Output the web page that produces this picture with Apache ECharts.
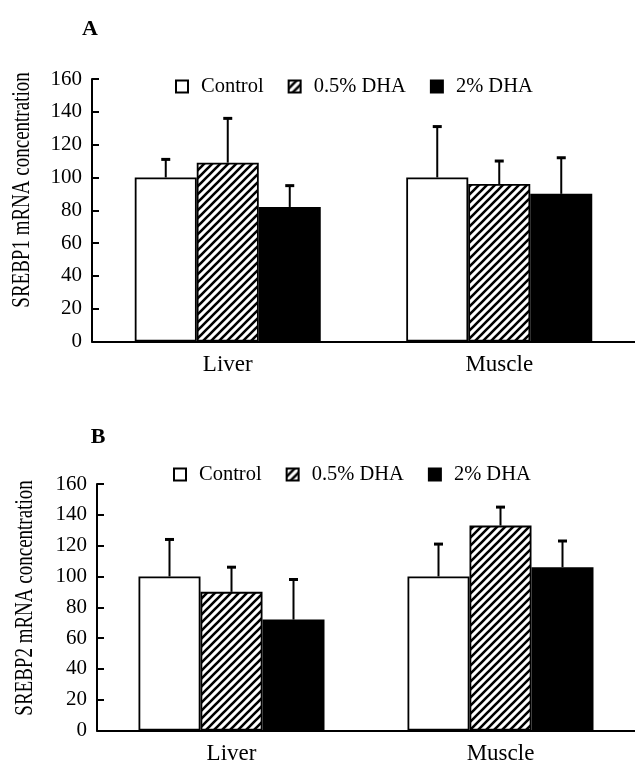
<!DOCTYPE html>
<html><head><meta charset="utf-8">
<script src="https://cdn.jsdelivr.net/npm/echarts@6/dist/echarts.min.js"></script>
<style>html,body{margin:0;padding:0;background:#fff}#c{width:635px;height:771px}</style>
</head><body><div id="c"></div>
<script>
// ---- data ----
const categories = ['Liver', 'Muscle'];
const seriesNames = ['Control', '0.5% DHA', '2% DHA'];
// Panel A: SREBP1
const srebp1Control = [100, 100];
const srebp1Dha05 = [109, 96];
const srebp1Dha2 = [82, 90];
const srebp1ControlSd = [11, 31];
const srebp1Dha05Sd = [27, 14];
const srebp1Dha2Sd = [13, 22];
// Panel B: SREBP2
const srebp2Control = [100, 100];
const srebp2Dha05 = [90, 133];
const srebp2Dha2 = [72, 106];
const srebp2ControlSd = [24, 21];
const srebp2Dha05Sd = [16, 12];
const srebp2Dha2Sd = [26, 17];
// axis ticks
const yMin = 0, yMax = 160, yStep = 20;
const panelLabels = ['A', 'B'];
const yTitles = ['SREBP1 mRNA concentration', 'SREBP2 mRNA concentration'];

// ---- style ----
const FONT = 'Liberation Serif, Times New Roman, serif';
const BAR_W = 62;

function hatch() {
  const s = 8, c = document.createElement('canvas');
  c.width = s; c.height = s;
  const g = c.getContext('2d');
  g.fillStyle = '#fff'; g.fillRect(0, 0, s, s);
  g.strokeStyle = '#000'; g.lineWidth = 2.6;
  g.beginPath();
  g.moveTo(-1, s + 1); g.lineTo(s + 1, -1);
  g.moveTo(-2, 2); g.lineTo(2, -2);
  g.moveTo(s - 2, s + 2); g.lineTo(s + 2, s - 2);
  g.stroke();
  return c;
}
const hatchImg = hatch();
const fills = ['#ffffff', { image: hatchImg, repeat: 'repeat' }, '#000000'];

function barSeries(name, idx, data, k) {
  return {
    name: name, type: 'bar', xAxisIndex: idx, yAxisIndex: idx,
    data: data, barWidth: BAR_W, barGap: '0%',
    itemStyle: { color: fills[k], borderColor: '#000', borderWidth: 1.8 },
    emphasis: { disabled: true }, z: 2
  };
}
function errSeries(idx, means, sds, k) {
  const offset = (k - 1) * BAR_W;
  return {
    type: 'custom', xAxisIndex: idx, yAxisIndex: idx, z: 5, silent: true,
    data: means.map((m, i) => [i, m, m + sds[i]]),
    renderItem: function (params, api) {
      const base = api.coord([api.value(0), api.value(1)]);
      const top = api.coord([api.value(0), api.value(2)]);
      const x = base[0] + offset;
      return { type: 'group', children: [
        { type: 'line', shape: { x1: x, y1: base[1], x2: x, y2: top[1] }, style: { stroke: '#000', lineWidth: 2 } },
        { type: 'line', shape: { x1: x - 4.5, y1: top[1], x2: x + 4.5, y2: top[1] }, style: { stroke: '#000', lineWidth: 3 } }
      ] };
    }
  };
}

const grids = [
  { left: 92, top: 79, width: 548, height: 262.5 },
  { left: 97, top: 484, width: 548, height: 246.5 }
];

function xAx(idx) {
  return {
    type: 'category', gridIndex: idx, data: categories,
    axisLine: { lineStyle: { color: '#000', width: 2 } },
    axisTick: { inside: true, length: 8, lineStyle: { color: '#000', width: 1.5 } },
    axisLabel: { color: '#000', fontFamily: FONT, fontSize: 23, margin: 12 },
    splitLine: { show: false }
  };
}
function yAx(idx) {
  return {
    type: 'value', gridIndex: idx, min: yMin, max: yMax, interval: yStep,
    axisLine: { show: true, lineStyle: { color: '#000', width: 2 } },
    axisTick: { show: true, inside: true, length: 7, lineStyle: { color: '#000', width: 2 } },
    axisLabel: { color: '#000', fontFamily: FONT, fontSize: 21, margin: 10 },
    splitLine: { show: false }
  };
}
function legendAt(left, top) {
  return {
    data: seriesNames.map(n => ({ name: n, icon: 'rect' })), left: left, top: top, orient: 'horizontal',
    padding: 0, itemWidth: 12, itemHeight: 12, itemGap: 24, selectedMode: false,
    textStyle: { color: '#000', fontFamily: FONT, fontSize: 20.5, padding: [0, 0, 0, 8] }
  };
}

const option = {
  animation: false,
  backgroundColor: '#fff',
  grid: grids,
  xAxis: [xAx(0), xAx(1)],
  yAxis: [yAx(0), yAx(1)],
  legend: [legendAt(175, 76), legendAt(173, 464)],
  graphic: [
    { type: 'text', x: 90, y: 29, style: { text: panelLabels[0], font: 'bold 22px ' + FONT, fill: '#000', textAlign: 'center', textVerticalAlign: 'middle' } },
    { type: 'text', x: 98, y: 437, style: { text: panelLabels[1], font: 'bold 22px ' + FONT, fill: '#000', textAlign: 'center', textVerticalAlign: 'middle' } },
    { type: 'text', x: 22, y: 190, rotation: Math.PI / 2, scaleX: 0.76, style: { text: yTitles[0], font: '25px ' + FONT, fill: '#000', textAlign: 'center', textVerticalAlign: 'middle' } },
    { type: 'text', x: 25, y: 598, rotation: Math.PI / 2, scaleX: 0.76, style: { text: yTitles[1], font: '25px ' + FONT, fill: '#000', textAlign: 'center', textVerticalAlign: 'middle' } }
  ],
  series: [
    barSeries(seriesNames[0], 0, srebp1Control, 0),
    barSeries(seriesNames[1], 0, srebp1Dha05, 1),
    barSeries(seriesNames[2], 0, srebp1Dha2, 2),
    barSeries(seriesNames[0], 1, srebp2Control, 0),
    barSeries(seriesNames[1], 1, srebp2Dha05, 1),
    barSeries(seriesNames[2], 1, srebp2Dha2, 2),
    errSeries(0, srebp1Control, srebp1ControlSd, 0),
    errSeries(0, srebp1Dha05, srebp1Dha05Sd, 1),
    errSeries(0, srebp1Dha2, srebp1Dha2Sd, 2),
    errSeries(1, srebp2Control, srebp2ControlSd, 0),
    errSeries(1, srebp2Dha05, srebp2Dha05Sd, 1),
    errSeries(1, srebp2Dha2, srebp2Dha2Sd, 2)
  ]
};
const chart = echarts.init(document.getElementById('c'), null, { renderer: 'canvas' });
chart.setOption(option);
</script>
</body></html>
